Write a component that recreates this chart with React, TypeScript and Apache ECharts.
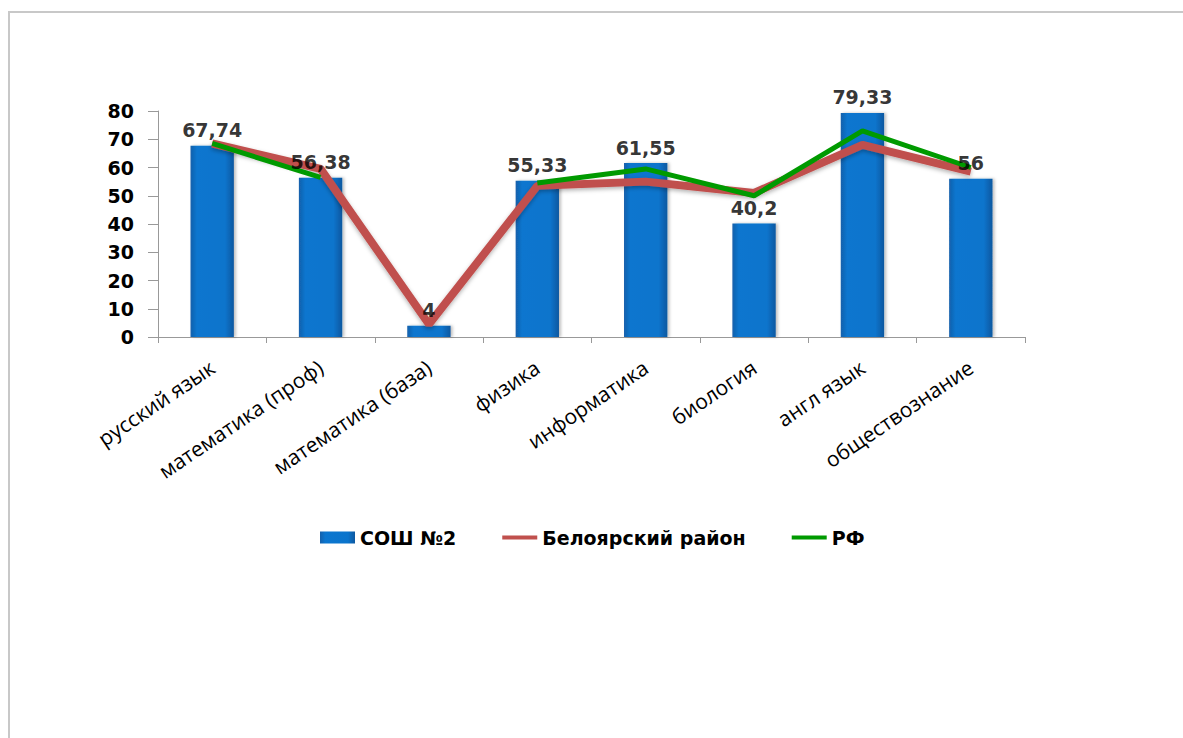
import React, { useEffect, useRef } from "react";
import * as echarts from "echarts";

const categories = [
  "русский язык",
  "математика (проф)",
  "математика (база)",
  "физика",
  "информатика",
  "биология",
  "англ язык",
  "обществознание",
];
const schoolValues = [67.74, 56.38, 4, 55.33, 61.55, 40.2, 79.33, 56];
const districtValues = [68.5, 59.5, 4.5, 53.5, 55, 51, 68, 58.5];
const russiaValues: (number | null)[] = [68.5, 56.5, null, 54.5, 59.5, 50, 73, 60];
const seriesNames = ["СОШ №2", "Белоярский район", "РФ"];
const yTicks = { min: 0, max: 80, interval: 10 };

const fmt = (v: number) => String(v).replace(".", ",");
const lineIcon = "path://M0,0 L35,0 L35,4 L0,4 Z";

export default function App() {
  const ref = useRef<HTMLDivElement>(null);
  useEffect(() => {
    if (!ref.current) return;
    const chart = echarts.init(ref.current, null, { renderer: "svg" });
    const barGrad = new echarts.graphic.LinearGradient(0, 0, 1, 0, [
      { offset: 0, color: "#1460ab" },
      { offset: 0.15, color: "#0b76cf" },
      { offset: 0.8, color: "#0a74cc" },
      { offset: 1, color: "#0d58a0" },
    ]);
    chart.setOption({
      animation: false,
      backgroundColor: "#ffffff",
      graphic: [
        {
          type: "rect",
          shape: { x: 9, y: 12, width: 1400, height: 900 },
          style: { fill: "none", stroke: "#c8c8c8", lineWidth: 2 },
          silent: true,
        },
      ],
      grid: { left: 158, right: 158, top: 111, bottom: 401 },
      legend: {
        left: 315,
        top: 523,
        itemWidth: 35,
        itemHeight: 12,
        itemGap: 46,
        symbolKeepAspect: true,
        textStyle: {
          fontFamily: "DejaVu Sans",
          fontWeight: "bold",
          fontSize: 19,
          color: "#000",
        },
        data: [
          { name: seriesNames[0], icon: "rect" },
          { name: seriesNames[1], icon: lineIcon, lineStyle: { width: 4, shadowBlur: 0 } },
          { name: seriesNames[2], icon: lineIcon, lineStyle: { width: 4 } },
        ],
      },
      xAxis: {
        type: "category",
        data: categories,
        boundaryGap: true,
        axisLine: { lineStyle: { color: "#999", width: 1 } },
        axisTick: { show: true, length: 6, lineStyle: { color: "#999" } },
        axisLabel: {
          rotate: 34,
          margin: 28,
          interval: 0,
          fontFamily: "Open Sans",
          fontSize: 21,
          color: "#000",
        },
      },
      yAxis: {
        type: "value",
        min: yTicks.min,
        max: yTicks.max,
        interval: yTicks.interval,
        splitLine: { show: false },
        axisLine: { show: true, lineStyle: { color: "#999", width: 1 } },
        axisTick: { show: true, length: 10, lineStyle: { color: "#999" } },
        axisLabel: {
          margin: 24,
          fontFamily: "DejaVu Sans",
          fontWeight: "bold",
          fontSize: 19,
          color: "#000",
        },
      },
      series: [
        {
          name: seriesNames[0],
          type: "bar",
          data: schoolValues,
          barWidth: "40%",
          itemStyle: {
            color: barGrad,
            shadowColor: "rgba(0,0,0,0.25)",
            shadowBlur: 3,
            shadowOffsetX: 2,
          },
          z: 2,
        },
        {
          name: seriesNames[1],
          type: "line",
          data: districtValues,
          symbol: "none",
          lineStyle: {
            color: "#c0504d",
            width: 8,
            shadowColor: "rgba(0,0,0,0.3)",
            shadowBlur: 4,
            shadowOffsetY: 2,
          },
          itemStyle: { color: "#c0504d" },
          z: 3,
        },
        {
          name: seriesNames[2],
          type: "line",
          data: russiaValues,
          symbol: "none",
          connectNulls: false,
          lineStyle: { color: "#009a00", width: 5 },
          itemStyle: { color: "#009a00" },
          z: 4,
        },
        {
          name: "labels",
          type: "scatter",
          data: schoolValues,
          symbolSize: 0,
          silent: true,
          z: 10,
          label: {
            show: true,
            position: "top",
            distance: 6,
            formatter: (p: any) => fmt(p.value),
            fontFamily: "DejaVu Sans",
            fontWeight: "bold",
            fontSize: 19,
            color: "#000",
          },
        },
      ],
    });
    return () => chart.dispose();
  }, []);
  return (
    <div
      ref={ref}
      style={{ position: "fixed", left: 0, top: 0, width: 1183, height: 738 }}
    />
  );
}
